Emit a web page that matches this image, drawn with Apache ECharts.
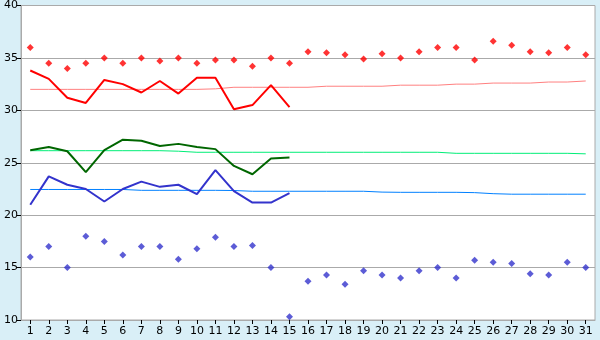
<!DOCTYPE html>
<html><head><meta charset="utf-8">
<script src="https://cdn.jsdelivr.net/npm/echarts@6/dist/echarts.min.js"></script>
<style>html,body{margin:0;padding:0;background:#d9eff7;}#c{width:600px;height:340px;}</style>
</head><body><div id="c"></div>
<script>
const days = ['1','2','3','4','5','6','7','8','9','10','11','12','13','14','15','16','17','18','19','20','21','22','23','24','25','26','27','28','29','30','31'];
const yTicks = [10,15,20,25,30,35,40];
const recordHigh = [36.0,34.5,34.0,34.5,35.0,34.5,35.0,34.7,35.0,34.5,34.8,34.8,34.2,35.0,34.5,35.6,35.5,35.3,34.9,35.4,35.0,35.6,36.0,36.0,34.8,36.6,36.2,35.6,35.5,36.0,35.3];
const recordLow = [16.0,17.0,15.0,18.0,17.5,16.2,17.0,17.0,15.8,16.8,17.9,17.0,17.1,15.0,10.3,13.7,14.3,13.4,14.7,14.3,14.0,14.7,15.0,14.0,15.7,15.5,15.4,14.4,14.3,15.5,15.0];
const dailyHigh = [33.8,33.0,31.2,30.7,32.9,32.5,31.7,32.8,31.6,33.1,33.1,30.1,30.5,32.4,30.3];
const dailyMean = [26.2,26.5,26.1,24.1,26.2,27.2,27.1,26.6,26.8,26.5,26.3,24.7,23.9,25.4,25.5];
const dailyLow = [21.0,23.7,22.9,22.5,21.3,22.5,23.2,22.7,22.9,22.0,24.3,22.3,21.2,21.2,22.1];
const normalHigh = [32.0,32.0,32.0,32.0,32.0,32.0,32.0,32.0,32.0,32.0,32.05,32.2,32.2,32.2,32.2,32.2,32.3,32.3,32.3,32.3,32.4,32.4,32.4,32.5,32.5,32.6,32.6,32.6,32.7,32.7,32.8];
const normalMean = [26.15,26.15,26.15,26.15,26.15,26.15,26.15,26.15,26.1,26.0,26.0,26.0,26.0,26.0,26.0,26.0,26.0,26.0,26.0,26.0,26.0,26.0,26.0,25.9,25.9,25.9,25.9,25.9,25.9,25.9,25.85];
const normalLow = [22.45,22.45,22.45,22.45,22.45,22.45,22.37,22.37,22.37,22.37,22.37,22.35,22.28,22.28,22.28,22.28,22.28,22.28,22.28,22.2,22.18,22.18,22.18,22.18,22.15,22.05,22.0,22.0,22.0,22.0,22.0];

const chart = echarts.init(document.getElementById('c'), null, {renderer:'canvas'});
const font = 'DejaVu Sans';
function line(data, color, width){
  return {type:'line', data:data, showSymbol:false, symbol:'none', silent:true, animation:false,
    lineStyle:{color:color, width:width}, z: width>1?3:2};
}
function pts(data, color){
  return {type:'scatter', data:data, symbol:'diamond', symbolSize:[7,7], animation:false, silent:true,
    itemStyle:{color:color}, z:4};
}
chart.setOption({
  animation:false,
  backgroundColor:'#d9eff7',
  grid:{left:21, right:5, top:5, bottom:20, show:true, backgroundColor:'#ffffff', borderColor:'#aaaaaa', borderWidth:1},
  xAxis:{type:'category', data:days, boundaryGap:true,
    axisLine:{show:true, lineStyle:{color:'#aaaaaa', width:1}},
    axisTick:{show:true, alignWithLabel:true, length:4, lineStyle:{color:'#000'}},
    axisLabel:{color:'#000', fontFamily:font, fontSize:11, margin:6, interval:0}},
  yAxis:{type:'value', min:yTicks[0], max:yTicks[yTicks.length-1], interval:5,
    axisLine:{show:true, lineStyle:{color:'#aaaaaa', width:1}},
    axisTick:{show:true, length:4, lineStyle:{color:'#000'}},
    axisLabel:{color:'#000', fontFamily:font, fontSize:11, margin:3},
    splitLine:{show:true, lineStyle:{color:'#aaaaaa', width:1}}},
  series:[
    line(normalHigh,'#ff8080',1),
    line(normalMean,'#00ee77',1),
    line(normalLow,'#0080ff',1),
    line(dailyHigh,'#ff0000',2),
    line(dailyMean,'#006600',2),
    line(dailyLow,'#3333cc',2),
    pts(recordHigh,'#ff0000'),
    pts(recordLow,'#3333cc')
  ]
});
</script></body></html>
